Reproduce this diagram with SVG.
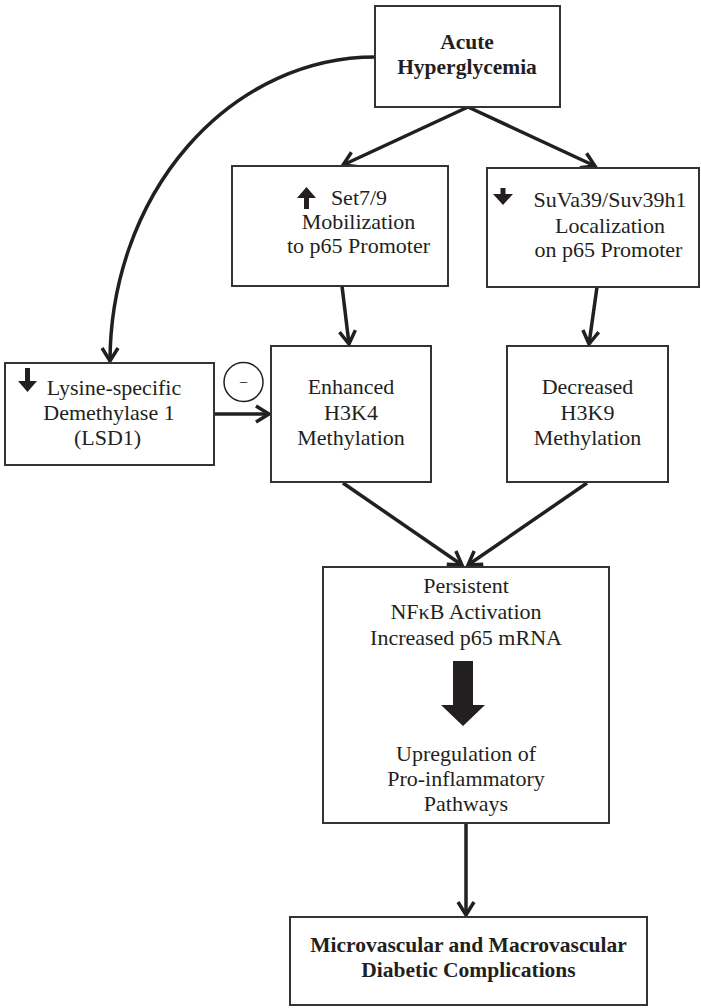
<svg xmlns="http://www.w3.org/2000/svg" width="701" height="1008" viewBox="0 0 701 1008">
<style>
.box{fill:#fff;stroke:#333;stroke-width:2}
.t{font-family:"Liberation Serif","Times New Roman",serif;font-size:22px;fill:#231f20;text-anchor:middle}
.b{font-weight:bold;font-size:21.5px}
.c{fill:none;stroke:#231f20;stroke-width:3.5;marker-end:url(#ah)}
.ic{fill:#231f20}
</style>
<defs>
<marker id="ah" markerUnits="userSpaceOnUse" viewBox="-16 -10 20 20" refX="0" refY="0" markerWidth="20" markerHeight="20" orient="auto">
<path d="M-13,-8 L0,0 L-13,8" fill="none" stroke="#231f20" stroke-width="3.5" stroke-linejoin="miter"/>
</marker>
</defs>
<g id="connectors">
<path class="c" d="M375,57 A265,305 0 0 0 110,361"/>
<path class="c" d="M468,107 L343,165"/>
<path class="c" d="M468,107 L595,166"/>
<path class="c" d="M342,286 L349,344"/>
<path class="c" d="M597,287 L589,344"/>
<path class="c" d="M214,414 L269,414"/>
<path class="c" d="M343,483 L462,565"/>
<path class="c" d="M587,483 L468,565"/>
<path class="c" d="M466,823 L466,915"/>
</g>
<g id="acute">
<rect class="box" x="375" y="6" width="185" height="101"/>
<text class="t b" x="467" y="49">Acute</text>
<text class="t b" x="467" y="74">Hyperglycemia</text>
</g>
<g id="set79">
<rect class="box" x="232" y="166" width="216" height="120"/>
<polygon class="ic" points="306.5,187 316,198 309,198 309,209 304,209 304,198 297,198"/>
<text class="t" x="359" y="205">Set7/9</text>
<text class="t" x="358.5" y="229">Mobilization</text>
<text class="t" x="358.5" y="253">to p65 Promoter</text>
</g>
<g id="suva">
<rect class="box" x="487" y="168" width="212" height="119"/>
<polygon class="ic" points="503,205 513,194 505.5,194 505.5,188 500.5,188 500.5,194 493,194"/>
<text class="t" x="610" y="207">SuVa39/Suv39h1</text>
<text class="t" x="610" y="233">Localization</text>
<text class="t" x="608.5" y="257">on p65 Promoter</text>
</g>
<g id="lsd1">
<rect class="box" x="5" y="363" width="209" height="102"/>
<polygon class="ic" points="27.5,392 37,381 30,381 30,368 25,368 25,381 18,381"/>
<text class="t" x="114" y="395">Lysine-specific</text>
<text class="t" x="109" y="420">Demethylase 1</text>
<text class="t" x="107.5" y="445">(LSD1)</text>
</g>
<g id="inhibit">
<circle cx="243.5" cy="382" r="19.5" fill="#fff" stroke="#231f20" stroke-width="1.5"/>
<text class="t" x="243.5" y="388" style="font-size:16px">−</text>
</g>
<g id="h3k4">
<rect class="box" x="271" y="346" width="160" height="136"/>
<text class="t" x="351" y="394">Enhanced</text>
<text class="t" x="351" y="420">H3K4</text>
<text class="t" x="351" y="445">Methylation</text>
</g>
<g id="h3k9">
<rect class="box" x="507" y="346" width="161" height="136"/>
<text class="t" x="587.5" y="394">Decreased</text>
<text class="t" x="587.5" y="420">H3K9</text>
<text class="t" x="587.5" y="445">Methylation</text>
</g>
<g id="nfkb">
<rect class="box" x="323" y="567" width="286" height="256"/>
<text class="t" x="466" y="593">Persistent</text>
<text class="t" x="466" y="619">NFκB Activation</text>
<text class="t" x="466" y="645">Increased p65 mRNA</text>
<polygon class="ic" points="453,661 473,661 473,705 485,705 463,726 441,705 453,705"/>
<text class="t" x="466" y="761">Upregulation of</text>
<text class="t" x="466" y="786">Pro-inflammatory</text>
<text class="t" x="466" y="811">Pathways</text>
</g>
<g id="complications">
<rect class="box" x="290" y="917" width="357" height="88"/>
<text class="t b" x="468.5" y="952">Microvascular and Macrovascular</text>
<text class="t b" x="468.5" y="977">Diabetic Complications</text>
</g>
</svg>
